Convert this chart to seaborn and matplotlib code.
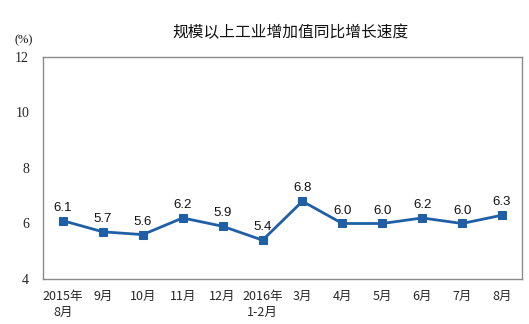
import numpy as np
import pandas as pd
import matplotlib
matplotlib.use("Agg")
import matplotlib.pyplot as plt
import seaborn as sns

months = ["2015年\n8月", "9月", "10月", "11月", "12月", "2016年\n1-2月",
          "3月", "4月", "5月", "6月", "7月", "8月"]
growth = [6.1, 5.7, 5.6, 6.2, 5.9, 5.4, 6.8, 6.0, 6.0, 6.2, 6.0, 6.3]
yticks = [4, 6, 8, 10, 12]
title = "规模以上工业增加值同比增长速度"

sns.set_theme(style="white")
plt.rcParams['font.family'] = ['Noto Sans CJK SC', 'DejaVu Sans']

df = pd.DataFrame({"idx": np.arange(len(months)), "val": growth})

fig = plt.figure(figsize=(5.29, 3.24), dpi=100)
ax = fig.add_axes([43/529, 45/324, 479/529, 222/324])
color = "#1f5fa5"
sns.lineplot(data=df, x="idx", y="val", ax=ax, color=color, lw=2,
             marker="s", markersize=5.5, markeredgecolor=color, markerfacecolor=color)

for i, v in enumerate(growth):
    ax.annotate(f"{v:.1f}", (i, v), xytext=(0, 5), textcoords="offset points",
                ha="center", va="bottom", fontsize=9.5, family="Liberation Sans", color="#111111")

ax.set_xlim(-0.5, len(months) - 0.5)
ax.set_ylim(4, 12)
ax.set_yticks(yticks)
ax.set_yticklabels([str(t) for t in yticks], family="Liberation Serif", fontsize=10)
ax.set_xticks(np.arange(len(months)))
ax.set_xticklabels(months, fontsize=9, linespacing=1.3)
ax.set_xticks(np.arange(len(months) - 1) + 0.5, minor=True)
ax.tick_params(axis="x", which="major", length=0, pad=8)
ax.tick_params(axis="x", which="minor", length=4, direction="in", color="#888888", width=1)
ax.tick_params(axis="y", length=0, pad=10)
ax.set_xlabel("")
ax.set_ylabel("")
for s in ax.spines.values():
    s.set_color("#8a8a8a")
    s.set_linewidth(1)

fig.text(291/529, 1 - 33/324, title, ha="center", va="center", fontsize=11.3, color="#111111")
fig.text(24/529, 1 - 40/324, "(%)", ha="center", va="center", fontsize=9,
         family="Liberation Serif", color="#111111")

fig.savefig("out.png", dpi=100)
